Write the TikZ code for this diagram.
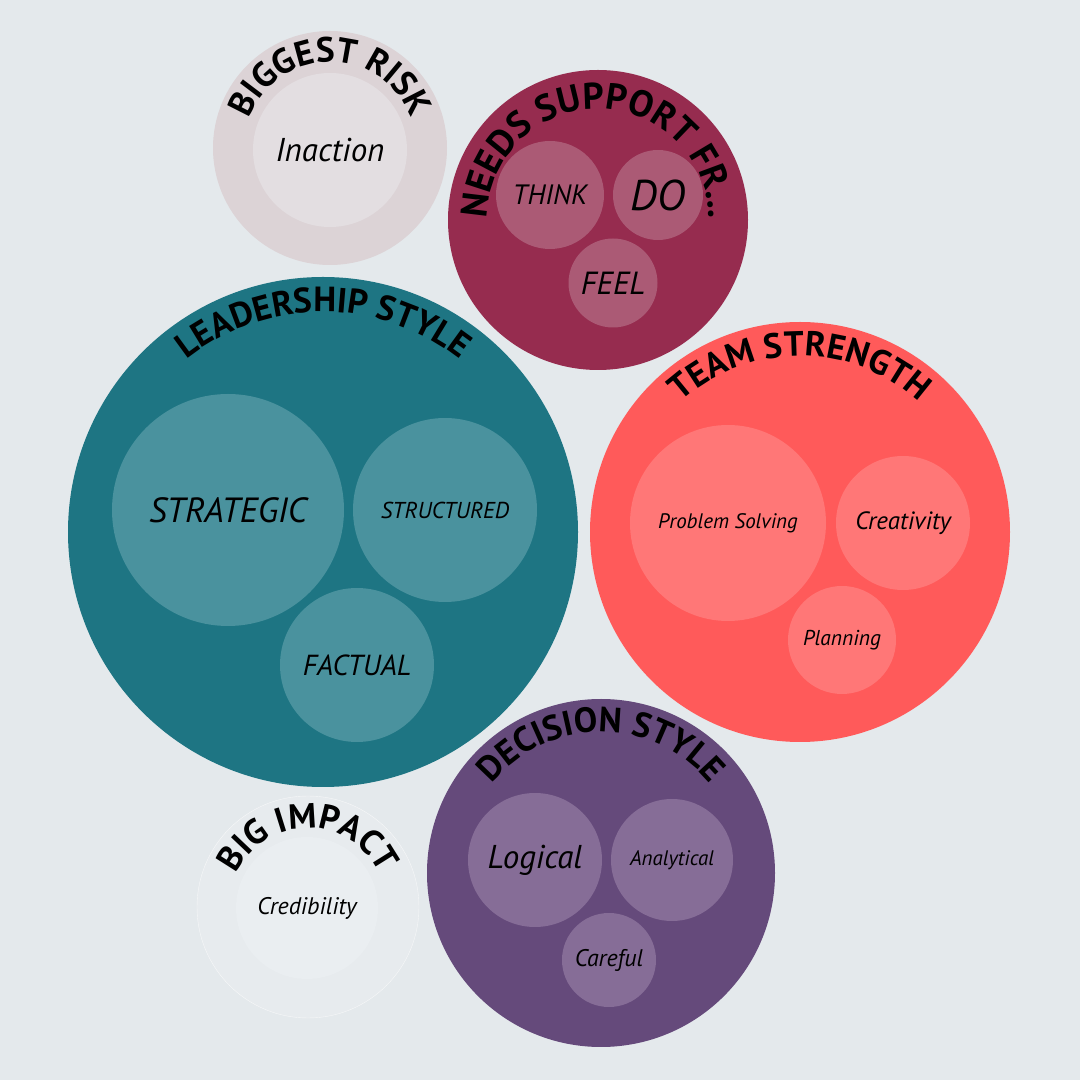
\documentclass[tikz,border=0pt]{standalone}
\usepackage{fontspec}
\setmainfont{PT Sans}
\usepackage{xcolor}
\usepackage{tikz}
\usetikzlibrary{decorations.text}

\definecolor{bgcol}{HTML}{E4E9EC}
\definecolor{riskout}{HTML}{DCD3D6}
\definecolor{riskin}{HTML}{E3DEE1}
\definecolor{suppout}{HTML}{962C4F}
\definecolor{suppin}{HTML}{AB5A75}
\definecolor{leadout}{HTML}{1E7583}
\definecolor{leadin}{HTML}{4A929E}
\definecolor{teamout}{HTML}{FF5A5A}
\definecolor{teamin}{HTML}{FF7777}
\definecolor{decout}{HTML}{654A7B}
\definecolor{decin}{HTML}{866D97}
\definecolor{impout}{HTML}{E7EBEE}
\definecolor{impin}{HTML}{EAEEF1}

\newcommand\labelsize[1]{\fontsize{#1}{#1}\selectfont}
\newcommand\titlefont[1]{\fontsize{#1}{#1}\selectfont\bfseries}

\tikzstyle{outer} = [circle, inner sep=0pt, draw=none]
\tikzstyle{inner} = [circle, inner sep=0pt, draw=none, text=black,
                     font=\itshape]
\tikzstyle{arctitle} = [decorate, decoration={text along path,
                        text align=center, text color=black}]

\begin{document}
\begin{tikzpicture}[x=1pt, y=1pt]
  \fill[bgcol] (0,0) rectangle (1080,1080);
  \useasboundingbox (0,0) rectangle (1080,1080);

  % outer bubbles
  \node[outer, fill=riskout, minimum size=234pt] (risk) at (330,932) {};
  \node[outer, fill=suppout, minimum size=300pt] (support) at (598,860) {};
  \node[outer, fill=leadout, minimum size=510pt] (leader) at (323,548) {};
  \node[outer, fill=teamout, minimum size=420pt] (team) at (800,548) {};
  \node[outer, fill=decout, minimum size=348pt] (decision) at (601,207) {};
  \node[outer, fill=impout, draw=white!70!bgcol, minimum size=222pt] (impact) at (308,173) {};

  % inner bubbles
  \node[inner, fill=riskin, minimum size=154pt, font=\labelsize{33}\itshape] (inaction) at (330,930) {Inaction};

  \node[inner, fill=suppin, minimum size=108pt, font=\labelsize{28}\itshape] (think) at (550,885) {THINK};
  \node[inner, fill=suppin, minimum size=90pt, font=\labelsize{43}\itshape] (do) at (658,885) {DO};
  \node[inner, fill=suppin, minimum size=89pt, font=\labelsize{32}\itshape] (feel) at (613,797) {FEEL};

  \node[inner, fill=leadin, minimum size=232pt, font=\labelsize{35}\itshape] (strategic) at (228,570) {STRATEGIC};
  \node[inner, fill=leadin, minimum size=184pt, font=\labelsize{23}\itshape] (structured) at (445,570) {STRUCTURED};
  \node[inner, fill=leadin, minimum size=154pt, font=\labelsize{29}\itshape] (factual) at (357,415) {FACTUAL};

  \node[inner, fill=teamin, minimum size=196pt, font=\labelsize{21}\itshape] (problem) at (728,557) {Problem Solving};
  \node[inner, fill=teamin, minimum size=134pt, font=\labelsize{25}\itshape] (creativity) at (903,557) {Creativity};
  \node[inner, fill=teamin, minimum size=108pt, font=\labelsize{21.5}\itshape] (planning) at (842,440) {Planning};

  \node[inner, fill=decin, minimum size=134pt, font=\labelsize{33}\itshape] (logical) at (535,220) {Logical};
  \node[inner, fill=decin, minimum size=122pt, font=\labelsize{21}\itshape] (analytical) at (672,220) {Analytical};
  \node[inner, fill=decin, minimum size=94pt, font=\labelsize{24}\itshape] (careful) at (609,120) {Careful};

  \node[inner, fill=impin, minimum size=142pt, font=\labelsize{24}\itshape] (credibility) at (307,172) {Credibility};

  % curved titles
  \path[arctitle, decoration={text={|\titlefont{35}|BIGGEST RISK}}]
    ([shift={(200:86)}]risk.center) arc[start angle=200, end angle=-20, radius=86];
  \path[arctitle, decoration={text={|\titlefont{37}|NEEDS SUPPORT FR...}}]
    ([shift={(200:111)}]support.center) arc[start angle=200, end angle=-20, radius=111];
  \path[arctitle, decoration={text={|\titlefont{35}|LEADERSHIP STYLE}}]
    ([shift={(200:220)}]leader.center) arc[start angle=200, end angle=-20, radius=220];
  \path[arctitle, decoration={text={|\titlefont{35}|TEAM STRENGTH}}]
    ([shift={(200:176)}]team.center) arc[start angle=200, end angle=-20, radius=176];
  \path[arctitle, decoration={text={|\titlefont{35}|DECISION STYLE}}]
    ([shift={(200:141)}]decision.center) arc[start angle=200, end angle=-20, radius=141];
  \path[arctitle, decoration={text={|\titlefont{35}|BIG IMPACT}}]
    ([shift={(200:79)}]impact.center) arc[start angle=200, end angle=-20, radius=79];

\end{tikzpicture}
\end{document}
